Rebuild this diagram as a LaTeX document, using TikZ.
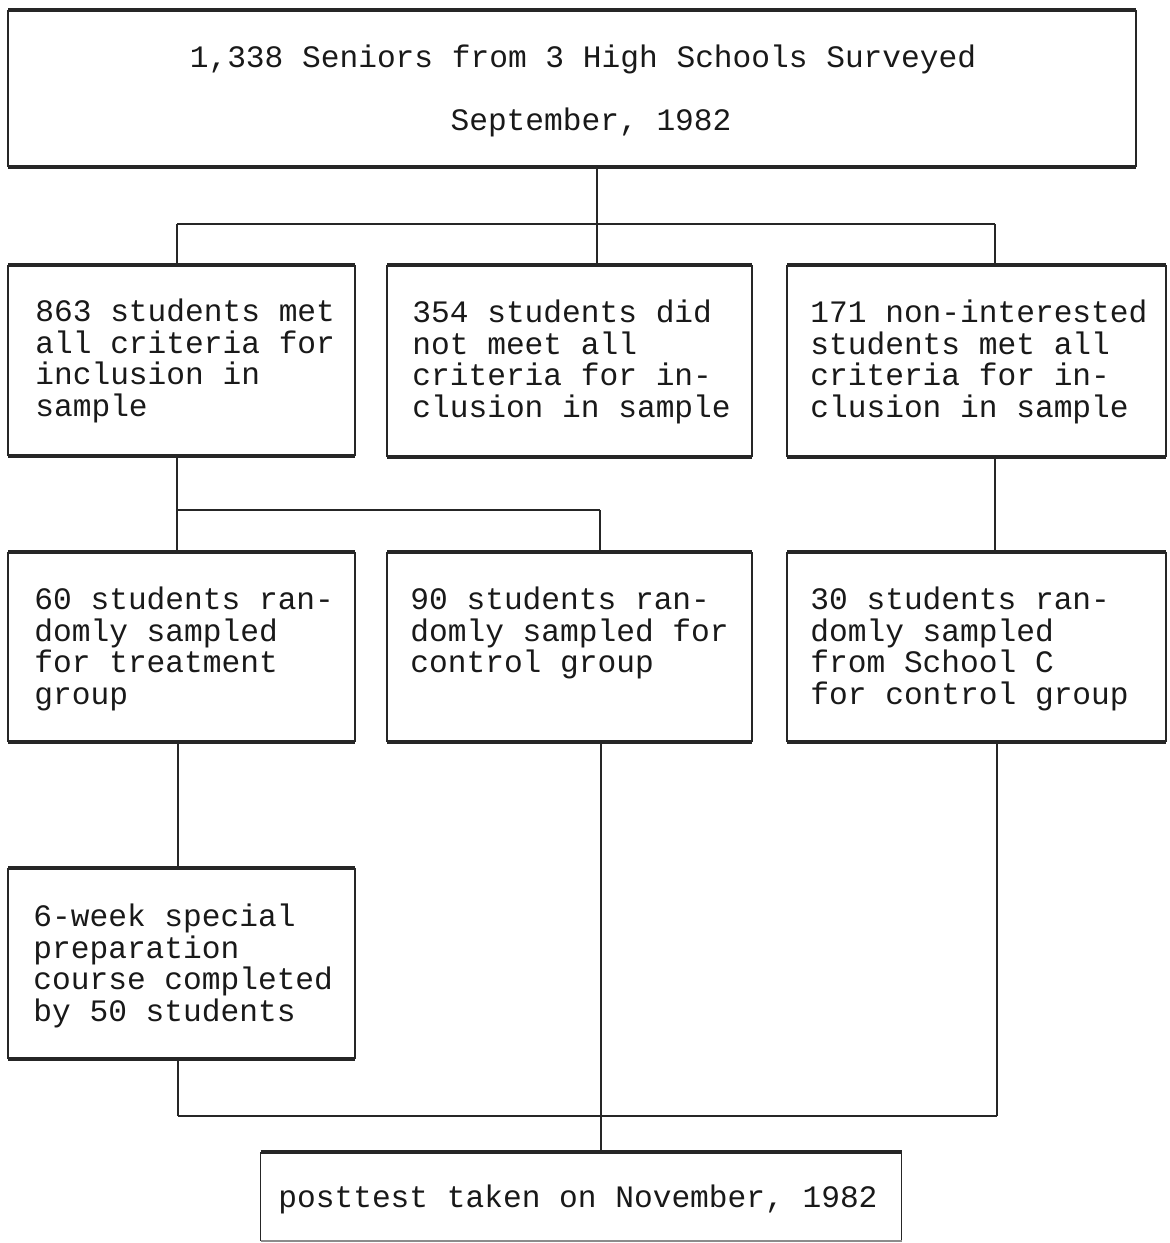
\documentclass[tikz,border=0pt]{standalone}
\usepackage{fontspec}
\setmonofont{Liberation Mono}
\begin{document}
\begin{tikzpicture}[x=0.5pt,y=-0.5pt,
  box/.style={draw=none,inner sep=0pt,outer sep=0pt},
  side/.style={line width=0.55pt,draw=black!85},
  edge/.style={line width=1.8pt,draw=black!85},
  conn/.style={line width=0.55pt,draw=black!85},
  bar/.style={line width=1.4pt,draw=black!85},
  txt/.style={font=\ttfamily\fontsize{15.6}{15.75}\selectfont,align=left,inner sep=0pt,anchor=west,text=black!90}
]
\useasboundingbox (0,0) rectangle (1169,1243);
\fill[white] (0,0) rectangle (1169,1243);

% boxes (sizes in pt = px/2)
\node[box,minimum width=564pt,minimum height=78.5pt] (T) at (572,88.5) {};
\node[box,minimum width=173.5pt,minimum height=95.5pt] (A) at (181.5,360.5) {};
\node[box,minimum width=182.5pt,minimum height=96pt] (B) at (569.5,361) {};
\node[box,minimum width=189.5pt,minimum height=96pt] (C) at (976.5,361) {};
\node[box,minimum width=173.5pt,minimum height=95pt] (A2) at (181.5,647) {};
\node[box,minimum width=182.5pt,minimum height=95pt] (B2) at (569.5,647) {};
\node[box,minimum width=189.5pt,minimum height=95pt] (C2) at (976.5,647) {};
\node[box,minimum width=173.5pt,minimum height=95.5pt] (D) at (181.5,963.5) {};
\node[box,minimum width=320.5pt,minimum height=44.5pt] (P) at (581,1196.5) {};

\foreach \n in {T,A,B,C,A2,B2,C2,D} {
  \draw[side] (\n.north west) -- (\n.south west) (\n.north east) -- (\n.south east);
  \draw[edge] (\n.north west) -- (\n.north east) (\n.south west) -- (\n.south east);
}
\draw[side] (P.north west) -- (P.south west) (P.north east) -- (P.south east);
\draw[edge] (P.north west) -- (P.north east);
\draw[side,draw=black!45] (P.south west) -- (P.south east);

% texts
\node[txt,anchor=center] (t1) at (583,59) {1,338 Seniors from 3 High Schools Surveyed};
\node[txt,anchor=center] (t2) at (591,122) {September, 1982};
\node[txt] (ta) at (35,361) {863 students met\\all criteria for\\inclusion in\\sample};
\node[txt] (tb) at (412,362) {354 students did\\not meet all\\criteria for in-\\clusion in sample};
\node[txt] (tc) at (810,362) {171 non-interested\\students met all\\criteria for in-\\clusion in sample};
\node[txt] (ta2) at (34,649) {60 students ran-\\domly sampled\\for treatment\\group};
\node[txt] (tb2) at (410,633) {90 students ran-\\domly sampled for\\control group};
\node[txt] (tc2) at (810,649) {30 students ran-\\domly sampled\\from School C\\for control group};
\node[txt] (td) at (33,966) {6-week special\\preparation\\course completed\\by 50 students};
\node[txt] (tp) at (278,1199) {posttest taken on November, 1982};

% junction coordinates
\coordinate (ba) at (177,224);
\coordinate (bb) at (597,224);
\coordinate (bc) at (995,224);
\coordinate (ca) at (177,510);
\coordinate (cb) at (600,510);
\coordinate (da) at (178,1116);
\coordinate (db) at (601,1116);
\coordinate (dc) at (997,1116);

% connectors
\draw[conn] (T.south -| bb) -- (bb);
\draw[bar] (ba) -- (bc);
\draw[conn] (ba) -- (ba |- A.north);
\draw[conn] (bb) -- (bb |- B.north);
\draw[conn] (bc) -- (bc |- C.north);

\draw[conn] (A.south -| ca) -- (A2.north -| ca);
\draw[bar] (ca) -- (cb);
\draw[conn] (cb) -- (cb |- B2.north);
\draw[conn] (C.south -| bc) -- (C2.north -| bc);

\draw[conn] (A2.south -| da) -- (D.north -| da);
\draw[conn] (D.south -| da) -- (da);
\draw[conn] (B2.south -| db) -- (db);
\draw[conn] (C2.south -| dc) -- (dc);
\draw[bar] (da) -- (dc);
\draw[conn] (db) -- (db |- P.north);
\end{tikzpicture}
\end{document}
